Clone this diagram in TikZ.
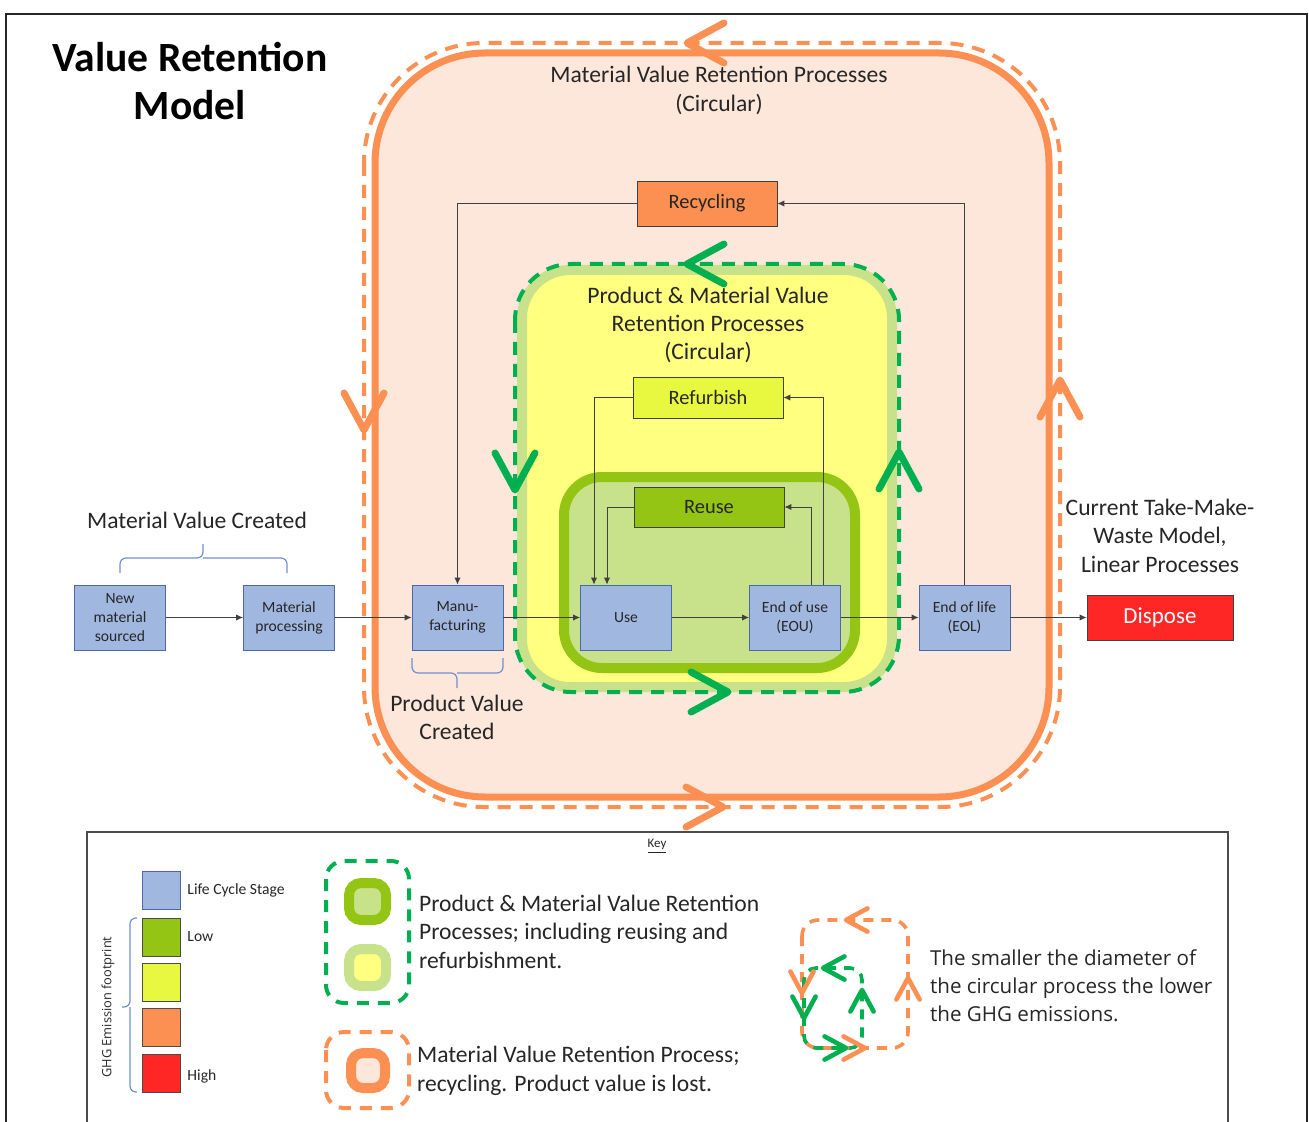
\documentclass[tikz,border=0pt]{standalone}
\usepackage{fontspec}
\setmainfont{Carlito}
\newfontfamily\segoe{Open Sans}
\usetikzlibrary{arrows.meta,positioning}

\definecolor{orangeln}{RGB}{252,143,82}
\definecolor{peach}{RGB}{253,230,218}
\definecolor{paleyel}{RGB}{255,255,128}
\definecolor{palegrn}{RGB}{200,226,140}
\definecolor{reusegrn}{RGB}{148,196,20}
\definecolor{refurbyel}{RGB}{232,248,64}
\definecolor{chevgrn}{RGB}{0,176,80}
\definecolor{stageblue}{RGB}{160,183,224}
\definecolor{stageedge}{RGB}{75,105,170}
\definecolor{disposered}{RGB}{255,38,38}
\definecolor{bracebl}{RGB}{110,145,210}

\tikzset{
    stage/.style={draw=stageedge, fill=stageblue, minimum width=45.5pt, minimum height=32.5pt, inner sep=1pt, align=center, font=\fontsize{7.8}{9.5}\selectfont, text=black!85},
    process/.style={draw=black!75, minimum width=70pt, minimum height=20.5pt, inner sep=1pt, font=\fontsize{10.2}{12}\selectfont, text=black!85},
    regiontext/.style={align=center, font=\fontsize{11.8}{14.2}\selectfont, text=black!85},
    keytext/.style={align=left, anchor=west, font=\fontsize{11.8}{14.25}\selectfont, text=black!85},
    keysmall/.style={font=\fontsize{7.8}{9}\selectfont, text=black!85},
    swatch/.style={draw=black!70, minimum size=19pt, inner sep=0pt},
    conn/.style={draw=black!75, line width=0.5pt, -{Latex[length=3.5pt,width=3.2pt]}},
    brc/.style={draw=bracebl, line width=0.6pt, rounded corners=3pt},
    dashO/.style={draw=orangeln, line width=2pt, dash pattern=on 6.5pt off 4.5pt},
    dashG/.style={draw=chevgrn, line width=2pt, dash pattern=on 6.5pt off 4.5pt},
    chevO/.style={draw=orangeln, line width=3.5pt, line cap=round, line join=round},
    chevG/.style={draw=chevgrn, line width=3.5pt, line cap=round, line join=round},
    chevron/.pic={\draw[pic actions] (-37,-20) -- (0,0) -- (-37,20);}
}

\begin{document}
\begin{tikzpicture}[x=0.5pt,y=-0.5pt]
        \useasboundingbox (0,0) rectangle (1309,1122);
        \draw[line width=1pt, black!85] (6,1122) -- (6,14) -- (1307,14) -- (1307,1122);
        \node[font=\bfseries\fontsize{20.8}{24}\selectfont, align=center] (title) at (190,81) {Value Retention\\Model};

        \draw[dashO, rounded corners=60pt] (364,43) rectangle (1060,807);
        \draw[orangeln, fill=peach, line width=3.5pt, rounded corners=55pt] (375,53) rectangle (1049,797);
        \node[regiontext] (mvrp) at (719,90.5) {Material Value Retention Processes\\(Circular)};

        \draw[palegrn, fill=paleyel, line width=5pt, rounded corners=24pt] (522,270) rectangle (892,687);
        \draw[dashG, rounded corners=28pt] (515,264) rectangle (899,692);
        \node[regiontext] (pmvrp) at (708,325) {Product \& Material Value\\Retention Processes\\(Circular)};
        \draw[reusegrn, fill=palegrn, line width=5pt, rounded corners=19pt] (564,477) rectangle (855,668);

        \node[stage] (new) at (120,617.5) {New\\material\\sourced};
        \node[stage] (matproc) at (289,617.5) {Material\\processing};
        \node[stage] (manu) at (457.5,617.5) {Manu-\\facturing};
        \node[stage] (use) at (626,617.5) {Use};
        \node[stage] (eou) at (795,617.5) {End of use\\(EOU)};
        \node[stage] (eol) at (964.5,617.5) {End of life\\(EOL)};
        \node[process, fill=disposered, text=white, minimum width=73pt, minimum height=22.5pt, font=\fontsize{11.5}{13}\selectfont] (dispose) at (1160,617.5) {Dispose};
        \node[process, fill=orangeln, minimum height=22.5pt] (recycling) at (707,203.5) {Recycling};
        \node[process, fill=refurbyel, minimum width=75pt] (refurbish) at (708,397.5) {Refurbish};
        \node[process, fill=reusegrn, minimum width=75pt, minimum height=20pt] (reuse) at (709,507) {Reuse};

        \draw[conn] (new) -- (matproc);
        \draw[conn] (matproc) -- (manu);
        \draw[conn] (manu) -- (use);
        \draw[conn] (use) -- (eou);
        \draw[conn] (eou) -- (eol);
        \draw[conn] (eol) -- (dispose);
        \draw[conn] (eol.north) |- (recycling.east);
        \draw[conn] (recycling.west) -| (manu.north);
        \draw[conn] ([xshift=14pt]eou.north) |- (refurbish.east);
        \draw[conn] (refurbish.west) -| ([xshift=-16pt]use.north);
        \draw[conn] ([xshift=8pt]eou.north) |- (reuse.east);
        \draw[conn] (reuse.west) -| ([xshift=-9.5pt]use.north);

        \node[regiontext] (mvc) at (197,520) {Material Value Created};
        \draw[brc] (120,573) |- (203,558) -- (203,544);
        \draw[brc] (287,573) |- (203,558);
        \node[regiontext] (pvc) at (457,717.5) {Product Value\\Created};
        \draw[brc] (412,658) |- (457,673) -- (457,688);
        \draw[brc] (503,658) |- (457,673);
        \node[regiontext] (tmw) at (1160,535.5) {Current Take-Make-\\Waste Model,\\Linear Processes};

        \pic[chevO, rotate=180] at (687,43) {chevron};
        \pic[chevO, rotate=-90] at (364,430) {chevron};
        \pic[chevO, rotate=90] at (1060,380) {chevron};
        \pic[chevO] at (723,807) {chevron};
        \pic[chevG, rotate=180] at (687,264) {chevron};
        \pic[chevG, rotate=-90] at (515,490) {chevron};
        \pic[chevG, rotate=90] at (899,452) {chevron};
        \pic[chevG] at (728,692) {chevron};

        \draw[line width=0.6pt, black!70] (87,1122) -- (87,832) -- (1228,832) -- (1228,1122);
        \node[font=\fontsize{6.5}{8}\selectfont, text=black!85] (key) at (657,846) {\underline{Key}};

        \node[swatch, fill=stageblue, draw=stageedge] (swstage) at (161,890.5) {};
        \node[swatch, fill=reusegrn] (swlow) at (161,937) {};
        \node[swatch, fill=refurbyel] (swmid) at (161,982) {};
        \node[swatch, fill=orangeln] (swmidhi) at (161,1027.5) {};
        \node[swatch, fill=disposered] (swhigh) at (161,1073) {};
        \node[keysmall, right=0pt of swstage] (lstage) {Life Cycle Stage};
        \node[keysmall, right=0pt of swlow] (llow) {Low};
        \node[keysmall, right=0pt of swhigh, yshift=-1.5pt] (lhigh) {High};
        \node[rotate=90, font=\segoe\fontsize{6.4}{8}\selectfont, text=black!85] (ghg) at (108,1007) {GHG Emission footprint};
        \draw[brc] (137,918) -| (130,1007) -- (122,1007);
        \draw[brc] (137,1092) -| (130,1007);

        \draw[dashG, dash pattern=on 6pt off 4.5pt, rounded corners=9pt] (326,861) rectangle (409,1003);
        \draw[reusegrn, fill=palegrn, line width=5pt, rounded corners=6pt] (349,883) rectangle (386,920);
        \draw[palegrn, fill=paleyel, line width=5pt, rounded corners=6pt] (349,949) rectangle (386,986);
        \node[keytext] (kpm) at (412,931.5) {Product \& Material Value Retention\\Processes; including reusing and\\refurbishment.};
        \draw[dashO, dash pattern=on 6pt off 4.5pt, rounded corners=9pt] (326,1032) rectangle (409,1108);
        \draw[orangeln, fill=peach, line width=5pt, rounded corners=6pt] (351,1053) rectangle (385,1088);
        \node[keytext] (kmv) at (410,1071) {Material Value Retention Process;\\recycling. Product value is lost.};

        \draw[dashO, line width=1.8pt, dash pattern=on 5pt off 4pt, rounded corners=8pt] (802,920) rectangle (908,1048);
        \draw[dashG, line width=1.8pt, dash pattern=on 5pt off 4pt, rounded corners=6pt] (804,968) rectangle (862,1048);
        \pic[chevO, line width=2.3pt, scale=0.58, rotate=180] at (846,920) {chevron};
        \pic[chevO, line width=2.3pt, scale=0.58, rotate=-90] at (802,993) {chevron};
        \pic[chevO, line width=2.3pt, scale=0.58, rotate=90] at (908,978) {chevron};
        \pic[chevO, line width=2.3pt, scale=0.58] at (865,1048) {chevron};
        \pic[chevG, line width=2.3pt, scale=0.58, rotate=180] at (823,968) {chevron};
        \pic[chevG, line width=2.3pt, scale=0.58, rotate=-90] at (804,1018) {chevron};
        \pic[chevG, line width=2.3pt, scale=0.58, rotate=90] at (862,990) {chevron};
        \pic[chevG, line width=2.3pt, scale=0.58] at (846,1048) {chevron};
        \node[keytext, font=\segoe\fontsize{10.3}{14}\selectfont] (ksmall) at (923,986) {The smaller the diameter of\\the circular process the lower\\the GHG emissions.};
\end{tikzpicture}
\end{document}
